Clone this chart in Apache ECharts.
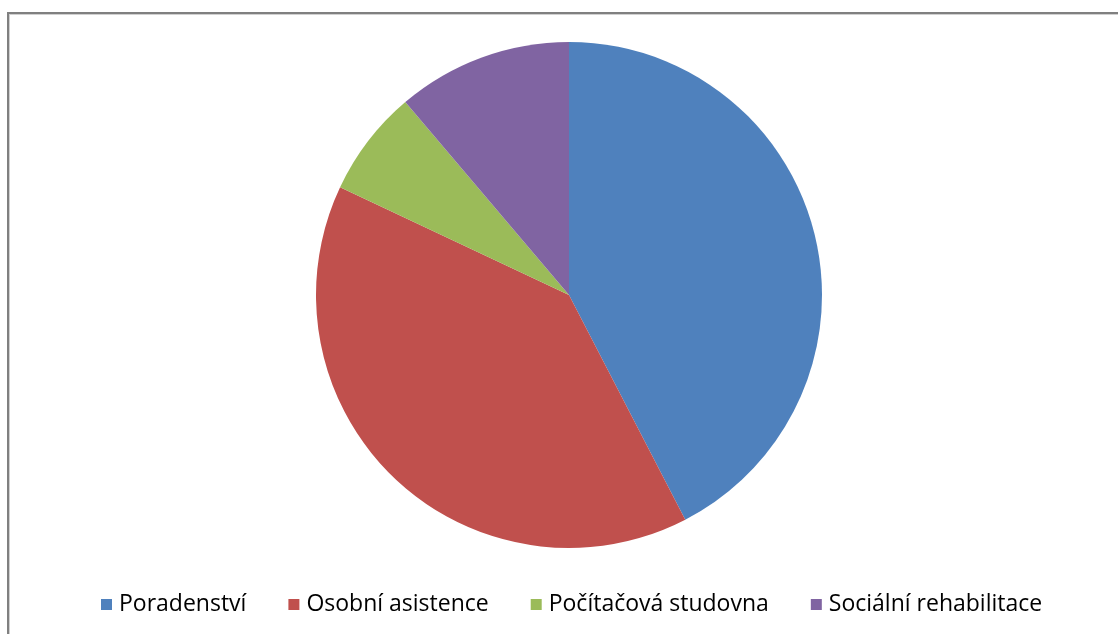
<!DOCTYPE html>
<html><head><meta charset="utf-8">
<script src="https://cdn.jsdelivr.net/npm/echarts@6/dist/echarts.min.js"></script>
<style>
html,body{margin:0;padding:0;background:#fff;}
#frame{position:absolute;left:7px;top:12px;width:1200px;height:700px;border-top:2px solid #808080;border-left:2px solid #808080;box-shadow:inset 1px 1px 0 #d0d0d0;}
#chart{position:absolute;left:0;top:0;width:1118px;height:634px;}
</style></head>
<body>
<div id="frame"></div>
<div id="chart"></div>
<script>
const categories = ['Poradenství', 'Osobní asistence', 'Počítačová studovna', 'Sociální rehabilitace'];
const values = [42.4, 39.6, 6.8, 11.2];
const colors = ['#4F81BD', '#C0504D', '#9BBB59', '#8064A2'];

const chart = echarts.init(document.getElementById('chart'));
chart.setOption({
  animation: false,
  color: colors,
  legend: {
    data: categories,
    left: 96,
    top: 588,
    itemWidth: 11,
    itemHeight: 11,
    itemGap: 42,
    icon: 'rect',
    textStyle: { fontFamily: 'Open Sans', fontSize: 23, color: '#000', padding: [0, 0, 0, 2] }
  },
  series: [{
    type: 'pie',
    center: [569, 295],
    radius: 253,
    startAngle: 90,
    clockwise: true,
    label: { show: false },
    labelLine: { show: false },
    itemStyle: { borderWidth: 0 },
    data: categories.map((c, i) => ({ name: c, value: values[i] }))
  }]
});
</script>
</body></html>
